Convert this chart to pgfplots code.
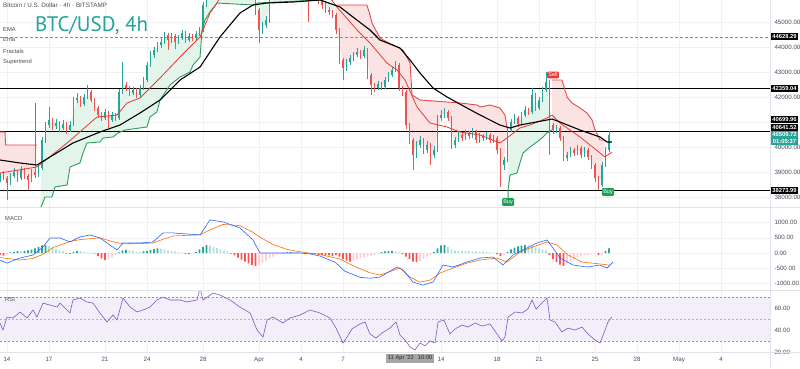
\documentclass[border=0pt]{standalone}
\usepackage{fontspec}
\setmainfont{Liberation Sans}
\newfontfamily\titlefont{PT Sans}
\usepackage{pgfplots}
\pgfplotsset{compat=1.18}
\usepackage{pgfplotstable}
\definecolor{upc}{HTML}{26A69A}
\definecolor{dnc}{HTML}{EF5350}
\definecolor{stg}{HTML}{2E9D5B}
\definecolor{str}{HTML}{E5484D}
\definecolor{fillg}{HTML}{E3F4EA}
\definecolor{fillr}{HTML}{FCE3E3}
\definecolor{emar}{HTML}{E53935}
\definecolor{macdb}{HTML}{2962FF}
\definecolor{macdo}{HTML}{FF6D00}
\definecolor{hupa}{HTML}{26A69A}
\definecolor{hupb}{HTML}{B2DFDB}
\definecolor{hdna}{HTML}{FF5252}
\definecolor{hdnb}{HTML}{FFCDD2}
\definecolor{rsil}{HTML}{7E57C2}
\definecolor{rsib}{HTML}{F3EFFA}
\definecolor{gridc}{HTML}{EFF1F6}
\definecolor{txtc}{HTML}{4A4D57}
\definecolor{sepc}{HTML}{E0E3EB}
\definecolor{titlec}{HTML}{22A39B}
\definecolor{buyc}{HTML}{1E9E55}
\definecolor{sellc}{HTML}{E53935}

\pgfplotstableread{
x o h l c
-0.5 38700 39000 38620 38900
-0.25 38900 39060 38700 38780
0 38780 38860 37900 38580
0.25 38580 38980 38500 38860
0.5 38860 39180 38800 39020
0.75 39020 39100 38640 38780
1.0 38780 39260 38700 39100
1.25 39100 39180 38760 38860
1.5 38860 38940 38300 38700
1.75 38700 39140 38640 39020
2.0 39020 41780 38800 38900
2.25 38900 39300 38820 39180
2.5 39180 40420 39100 40300
2.75 40300 41020 40200 40900
3.0 40900 41620 40800 41100
3.25 41100 41200 40700 40860
3.5 40860 41140 40760 40980
3.75 40980 41060 40640 40780
4.0 40780 41100 40700 40940
4.25 40940 41020 40560 40700
4.5 40700 41060 40620 40900
4.75 40900 42040 40860 41900
5.0 41900 42200 41780 41980
5.25 41980 42060 41620 41740
5.5 41740 42140 41660 42020
5.75 42020 42500 41940 42220
6.0 42220 42300 41820 41900
6.25 41900 41980 41460 41580
6.5 41580 41660 41200 41300
6.75 41300 41420 41060 41180
7.0 41180 41540 41100 41420
7.25 41420 41480 40780 41100
7.5 41100 41420 41020 41300
7.75 41300 41380 41060 41180
8.0 41180 42340 41100 42220
8.25 42220 43420 42140 42500
8.5 42500 42620 42260 42380
8.75 42380 42460 42060 42180
9.0 42180 42440 42100 42300
9.25 42300 42380 41980 42100
9.5 42100 42500 42020 42380
9.75 42380 42820 42300 42700
10.0 42700 43420 42640 43300
10.25 43300 43860 43220 43700
10.5 43700 44040 43600 43900
10.75 43900 44220 43820 44100
11.0 44100 44380 43980 44220
11.25 44220 44640 44140 44500
11.5 44500 44580 43900 44300
11.75 44300 44580 44200 44460
12.0 44460 44540 43940 44220
12.25 44220 44500 44140 44380
12.5 44380 44700 44300 44580
12.75 44580 44660 44180 44300
13.0 44300 44580 44240 44460
13.25 44460 44540 44260 44380
13.5 44380 44660 44300 44540
13.75 44540 44820 44460 44700
14.0 44700 45840 44640 45700
14.25 45700 46460 45620 46300
14.5 46300 46900 46200 46700
14.75 46700 47700 46600 47500
15.0 47500 48100 47400 47900
15.25 47900 48000 47500 47700
15.5 47700 48200 47600 48100
15.75 48100 48200 47700 47900
16.0 47900 48000 47300 47500
16.25 47500 47600 47100 47300
16.5 47300 47400 46900 47100
16.75 47100 47600 47000 47420
17.0 47420 47500 46700 46900
17.25 46900 47000 46300 46500
17.5 46500 46600 45900 46100
17.75 46100 46200 45300 45500
18.0 45500 45600 44180 44700
18.25 44700 45040 44560 44900
18.5 44900 45260 44800 45100
18.75 45100 46240 45000 46100
19.0 46100 46660 46000 46500
19.25 46500 46860 46400 46700
19.5 46700 47060 46600 46900
19.75 46900 47000 46560 46700
20.0 46700 47200 46600 47020
20.25 47020 47120 46640 46780
20.5 46780 47260 46700 47100
20.75 47100 47200 46760 46900
21.0 46900 47000 46560 46700
21.25 46700 46800 46360 46500
21.5 46500 46600 45020 46300
21.75 46300 46400 45940 46100
22.0 46100 46360 46000 46220
22.25 46220 46300 45760 45900
22.5 45900 46000 45560 45700
22.75 45700 45800 45380 45500
23.0 45500 45620 45300 45420
23.25 45420 45500 45180 45300
23.5 45300 45380 44560 44700
23.75 44700 44780 43360 43500
24.0 43500 43600 42700 43180
24.25 43180 43560 43060 43420
24.5 43420 43720 43300 43580
24.75 43580 43840 43480 43700
25.0 43700 43980 43620 43820
25.25 43820 43900 43540 43660
25.5 43660 44060 43580 43900
25.75 43900 43980 42760 42900
26.0 42900 43000 42100 42500
26.25 42500 42600 42240 42380
26.5 42380 42680 42300 42540
26.75 42540 42640 42300 42420
27.0 42420 42820 42340 42700
27.25 42700 43040 42620 42900
27.5 42900 43240 42820 43100
27.75 43100 43460 43020 43300
28.0 43300 43380 42260 42380
28.25 42380 42460 42080 42220
28.5 42220 42300 40760 40900
28.75 40900 41000 40140 40300
29.0 40300 40380 39100 39700
29.25 39700 40260 39580 40100
29.5 40100 40460 40000 40300
29.75 40300 40380 39760 39900
30.0 39900 40260 39800 40100
30.25 40100 40200 39300 39700
30.5 39700 40060 39600 39900
30.75 39900 41320 39820 41180
31.0 41180 41500 41080 41300
31.25 41300 41580 41200 41420
31.5 41420 41500 41060 41180
31.75 41180 41260 39960 40100
32.0 40100 40440 40000 40300
32.25 40300 40660 40220 40500
32.5 40500 40600 40260 40380
32.75 40380 40720 40300 40580
33.0 40580 40660 40340 40460
33.25 40460 40780 40380 40620
33.5 40620 40700 40180 40300
33.75 40300 40600 40200 40460
34.0 40460 40560 40260 40380
34.25 40380 40640 40300 40500
34.5 40500 40580 40180 40300
34.75 40300 40520 40200 40380
35.0 40380 40460 39760 39900
35.25 39900 39980 38420 39300
35.5 39300 39640 39100 39500
35.75 39500 40840 39420 40700
36.0 40700 41160 40620 41020
36.25 41020 41340 40940 41180
36.5 41180 41260 40820 40940
36.75 40940 41440 40860 41300
37.0 41300 41660 41220 41500
37.25 41500 41600 41300 41420
37.5 41420 42380 41340 42100
37.75 42100 42180 41460 41580
38.0 41580 42040 41500 41900
38.25 41900 42440 41820 42300
38.5 42300 43020 42220 42620
38.75 42620 42700 39700 40900
39.0 40900 41000 40560 40700
39.25 40700 40920 40600 40780
39.5 40780 40860 40260 40380
39.75 40380 40460 39460 39580
40.0 39580 39840 39480 39700
40.25 39700 40040 39620 39900
40.5 39900 40000 39660 39780
40.75 39780 40120 39700 39980
41.0 39980 40060 39580 39700
41.25 39700 40040 39620 39900
41.5 39900 39980 39500 39620
41.75 39620 39700 39160 39300
42.0 39300 39380 38640 38780
42.25 38780 38860 38300 38500
42.5 38500 39440 38420 39300
42.75 39300 40040 39220 39900
43.0 39900 40680 39820 40510
}\candles

\pgfplotstableread{
x h k
-0.5 -60 3
-0.25 -90 3
0 -50 4
0.25 20 1
0.5 40 1
0.75 60 1
1 50 2
1.25 70 1
1.5 90 1
1.75 110 1
2 150 1
2.25 200 1
2.5 250 1
2.75 260 1
3 230 2
3.25 180 2
3.5 140 2
3.75 100 2
4 60 2
4.25 -20 3
4.5 -30 3
4.75 40 1
5 70 1
5.25 60 2
5.5 40 2
5.75 20 2
6 10 2
6.25 -20 3
6.5 -100 3
6.75 -180 3
7 -230 3
7.25 -200 4
7.5 -150 4
7.75 -60 4
8 20 1
8.25 90 1
8.5 110 1
8.75 90 2
9 70 2
9.25 40 2
9.5 30 2
9.75 50 1
10 70 1
10.25 100 1
10.5 130 1
10.75 150 1
11 140 2
11.25 120 2
11.5 90 2
11.75 70 2
12 50 2
12.25 30 2
12.5 10 2
12.75 -30 3
13 -40 3
13.25 -20 4
13.5 30 1
13.75 120 1
14 200 1
14.25 260 1
14.5 240 2
14.75 200 2
15 160 2
15.25 120 2
15.5 80 2
15.75 50 2
16 -20 3
16.25 -80 3
16.5 -150 3
16.75 -220 3
17 -280 3
17.25 -340 3
17.5 -400 3
17.75 -430 3
18 -400 4
18.25 -330 4
18.5 -250 4
18.75 -180 4
19 -120 4
19.25 -60 4
19.5 -20 4
19.75 5 1
20 20 1
20.25 30 1
20.5 30 2
20.75 20 2
21 10 2
21.25 -10 3
21.5 -20 3
21.75 -30 3
22 -40 3
22.25 -50 3
22.5 -60 3
22.75 -70 3
23 -80 3
23.25 -100 3
23.5 -60 3
23.75 -120 3
24 -200 3
24.25 -250 3
24.5 -280 3
24.75 -260 4
25 -220 4
25.25 -180 4
25.5 -140 4
25.75 -120 4
26 -90 4
26.25 -60 4
26.5 -20 4
26.75 30 1
27 50 1
27.25 60 1
27.5 70 1
27.75 50 2
28 20 2
28.25 -40 3
28.5 -120 3
28.75 -200 3
29 -280 3
29.25 -300 3
29.5 -260 4
29.75 -200 4
30 -120 4
30.25 -60 4
30.5 40 1
30.75 150 1
31 250 1
31.25 270 1
31.5 200 2
31.75 120 2
32 90 2
32.25 80 2
32.5 70 2
32.75 60 2
33 60 2
33.25 50 2
33.5 50 2
33.75 40 2
34 40 2
34.25 30 2
34.5 20 2
34.75 10 2
35 -40 3
35.25 -100 3
35.5 -60 4
35.75 40 1
36 120 1
36.25 180 1
36.5 220 1
36.75 240 1
37 260 1
37.25 250 2
37.5 240 2
37.75 180 2
38 150 2
38.25 120 2
38.5 90 2
38.75 -60 3
39 -200 3
39.25 -300 3
39.5 -380 3
39.75 -420 3
40 -350 4
40.25 -280 4
40.5 -200 4
40.75 -150 4
41 -110 4
41.25 -80 4
41.5 -60 4
41.75 -40 4
42 -20 4
42.25 -70 3
42.5 -60 4
42.75 60 1
43 150 1
}\hist

\pgfplotsset{
  pane/.style={scale only axis, width=770pt, xmin=-0.5, xmax=54.5,
    axis line style={draw=none}, major tick length=0pt, tick style={draw=none},
    xtick={0,3,7,10,14,18,21,24,31,35,38,42,45,48,51},
    xmajorgrids, major grid style={color=gridc, line width=0.6pt},
    yticklabel pos=right, scaled y ticks=false,
    /pgf/number format/assume math mode=true,
    yticklabel={\pgfmathprintnumber[fixed,fixed zerofill,precision=2,1000 sep={}]{\tick}},
    yticklabel style={font=\fontsize{6.2}{7}\selectfont, text=txtc, anchor=west, xshift=1pt},
    xticklabel style={font=\fontsize{6.2}{7}\selectfont, text=txtc},
  },
  upwick/.style={draw=none, mark=none, forget plot,
    restrict expr to domain={\thisrow{c}-\thisrow{o}}{0:100000},
    error bars/.cd, y dir=both, y explicit, error mark=none,
    error bar style={draw=upc, line width=0.55pt}},
  dnwick/.style={draw=none, mark=none, forget plot,
    restrict expr to domain={\thisrow{c}-\thisrow{o}}{-100000:-1},
    error bars/.cd, y dir=both, y explicit, error mark=none,
    error bar style={draw=dnc, line width=0.55pt}},
  upbody/.style={draw=none, mark=none, forget plot,
    restrict expr to domain={\thisrow{c}-\thisrow{o}}{0:100000},
    error bars/.cd, y dir=both, y explicit, error mark=none,
    error bar style={draw=upc, line width=1.8pt}},
  dnbody/.style={draw=none, mark=none, forget plot,
    restrict expr to domain={\thisrow{c}-\thisrow{o}}{-100000:-1},
    error bars/.cd, y dir=both, y explicit, error mark=none,
    error bar style={draw=dnc, line width=1.8pt}},
  hbar/.style={ybar, bar width=1.8pt, bar shift=0pt, draw=none, forget plot},
  stfill/.style={draw=none, forget plot},
}

\begin{document}
\begin{tikzpicture}
\useasboundingbox (0,0) rectangle (800pt,-368pt);

% ---------------- main price pane ----------------
\begin{axis}[pane, at={(0pt,0pt)}, anchor=north west, height=207pt,
  ymin=37620, ymax=45900, ytick={38000,39000,40000,42000,43000,44000,45000}, ymajorgrids,
  extra y ticks={41000}, extra y tick labels={}, extra y tick style={grid=major},
  xticklabels={}]

% supertrend fills (between supertrend and candle-body midline)
\addplot[stfill, fill=fillr] coordinates {(-0.5,40620) (-0.14,40620) (-0.1,40100) (2.14,40100) (2.0,38960) (1.75,38860) (1.5,38780) (1.25,38980) (1.0,38940) (0.75,38900) (0.5,38940) (0.25,38720) (0,38680) (-0.25,38840) (-0.5,38800)} -- cycle;
\addplot[stfill, fill=fillg] coordinates {(2.36,37500) (2.71,38020) (3.21,38020) (3.43,38420) (4.29,38500) (4.5,39220) (5.21,39380) (5.43,39780) (5.71,40180) (6.64,40220) (6.86,40380) (7.57,40420) (7.93,40580) (8.43,40700) (10,40820) (10.21,41220) (10.71,41420) (10.93,41900) (11.64,42500) (12.36,42820) (13.07,43020) (13.29,43300) (13.79,43620) (13.93,44700) (14.14,45100) (14.5,45420) (15,45780) (17.57,45700) (17.86,45780) (22.36,45900) (23.43,45700) (23.25,45360) (23.0,45460) (22.5,45800) (22,46160) (21,46800) (20,46860) (19,46300) (18.75,45600) (18.5,45000) (18.25,44800) (18.0,45100) (17.75,45800) (17,47160) (16,47700) (15,47700) (14.5,46500) (14.25,46000) (14.0,45200) (13.75,44620) (13.5,44460) (13.25,44420) (13.0,44380) (12.75,44440) (12.5,44480) (12.25,44300) (12.0,44340) (11.75,44380) (11.5,44400) (11.25,44360) (11.0,44160) (10.75,44000) (10.5,43800) (10.25,43500) (10.0,43000) (9.75,42540) (9.5,42240) (9.25,42200) (9.0,42240) (8.75,42280) (8.5,42440) (8.25,42360) (8.0,41700) (7.75,41240) (7.5,41200) (7.25,41260) (7.0,41300) (6.75,41240) (6.5,41440) (6.25,41740) (6.0,42060) (5.75,42120) (5.5,41880) (5.25,41860) (5.0,41940) (4.75,41400) (4.5,40800) (4.25,40820) (4.0,40860) (3.75,40880) (3.5,40920) (3.25,40980) (3.0,41000) (2.75,40600) (2.5,39740)} -- cycle;
\addplot[stfill, fill=fillr] coordinates {(23.43,45700) (24.14,45700) (25.71,45700) (25.93,45300) (26.07,44980) (26.64,44380) (27.14,44220) (27.86,44020) (28.29,43900) (28.79,43380) (28.93,42100) (29.5,41900) (32.36,41780) (33.57,41700) (33.79,41620) (34.5,41700) (35.21,41580) (35.57,41300) (35.71,40820) (35.5,39400) (35.25,39600) (35.0,40140) (34.75,40340) (34.5,40400) (34.25,40440) (34.0,40420) (33.75,40380) (33.5,40460) (33.25,40540) (33.0,40520) (32.75,40480) (32.5,40440) (32.25,40400) (32.0,40200) (31.75,40640) (31.5,41300) (31.25,41360) (31.0,41240) (30.75,40540) (30.5,39800) (30.25,39900) (30.0,40000) (29.75,40100) (29.5,40200) (29.25,39900) (29.0,40000) (28.75,40600) (28.5,41560) (28.25,42300) (28.0,42840) (27.75,43200) (27.5,43000) (27.25,42800) (27.0,42560) (26.75,42480) (26.5,42460) (26.25,42440) (26.0,42700) (25.75,43400) (25.5,43780) (25.25,43740) (25.0,43760) (24.75,43640) (24.5,43500) (24.25,43300) (24.0,43340) (23.75,44100) (23.5,45000)} -- cycle;
\addplot[stfill, fill=fillg] coordinates {(35.79,38300) (35.93,38900) (36.43,38980) (36.64,39380) (36.86,39780) (37.36,40020) (37.86,40220) (38.29,40420) (38.57,40580) (38.93,40700) (38.75,41760) (38.5,42460) (38.25,42100) (38.0,41740) (37.75,41840) (37.5,41760) (37.25,41460) (37.0,41400) (36.75,41120) (36.5,41060) (36.25,41100) (36.0,40860) (35.79,40100)} -- cycle;
\addplot[stfill, fill=fillr] coordinates {(38.93,42700) (39.64,42700) (40,42020) (40.36,41780) (40.93,41580) (41.43,41380) (41.79,41100) (42,40700) (42.36,40300) (42.71,40300) (42.5,38900) (42.25,38640) (42.0,39040) (41.75,39460) (41.5,39760) (41.25,39800) (41.0,39840) (40.75,39880) (40.5,39840) (40.25,39800) (40.0,39640) (39.75,39980) (39.5,40580) (39.25,40740) (39.0,40800) (38.93,40900)} -- cycle;

% key levels
\addplot[color=black!45, line width=0.6pt, dash pattern=on 3pt off 2pt] coordinates {(-0.5,44420) (54.5,44420)};
\addplot[black, line width=1.2pt] coordinates {(-0.5,42359.04) (54.5,42359.04)};
\addplot[black, line width=1.2pt] coordinates {(-0.5,40641.52) (54.5,40641.52)};
\addplot[black, line width=1.2pt] coordinates {(-0.5,38273.99) (54.5,38273.99)};

% candles
\addplot[upwick] table[x=x, y expr={(\thisrow{h}+\thisrow{l})/2}, y error expr={(\thisrow{h}-\thisrow{l})/2}]{\candles};
\addplot[dnwick] table[x=x, y expr={(\thisrow{h}+\thisrow{l})/2}, y error expr={(\thisrow{h}-\thisrow{l})/2}]{\candles};
\addplot[upbody] table[x=x, y expr={(\thisrow{o}+\thisrow{c})/2}, y error expr={abs(\thisrow{c}-\thisrow{o})/2}]{\candles};
\addplot[dnbody] table[x=x, y expr={(\thisrow{o}+\thisrow{c})/2}, y error expr={abs(\thisrow{c}-\thisrow{o})/2}]{\candles};

% supertrend lines
\addplot[str, line width=0.9pt] coordinates {(-0.5,40620) (-0.14,40620) (-0.1,40100) (2.14,40100)};
\addplot[stg, line width=0.9pt] coordinates {(2.36,37500) (2.71,38020) (3.21,38020) (3.43,38420) (4.29,38500) (4.5,39220) (5.21,39380) (5.43,39780) (5.71,40180) (6.64,40220) (6.86,40380) (7.57,40420) (7.93,40580) (8.43,40700) (10,40820) (10.21,41220) (10.71,41420) (10.93,41900) (11.64,42500) (12.36,42820) (13.07,43020) (13.29,43300) (13.79,43620) (13.93,44700) (14.14,45100) (14.5,45420) (15,45780) (17.57,45700) (17.86,45780) (22.36,45900) (23.43,45700)};
\addplot[str, line width=0.9pt] coordinates {(23.43,45700) (24.14,45700) (25.71,45700) (25.93,45300) (26.07,44980) (26.64,44380) (27.14,44220) (27.86,44020) (28.29,43900) (28.79,43380) (28.93,42100) (29.5,41900) (32.36,41780) (33.57,41700) (33.79,41620) (34.5,41700) (35.21,41580) (35.57,41300) (35.71,40820)};
\addplot[stg, line width=0.9pt] coordinates {(35.79,37900) (35.79,38300) (35.93,38900) (36.43,38980) (36.64,39380) (36.86,39780) (37.36,40020) (37.86,40220) (38.29,40420) (38.57,40580) (38.93,40700)};
\addplot[str, line width=0.9pt] coordinates {(38.93,42700) (39.64,42700) (40,42020) (40.36,41780) (40.93,41580) (41.43,41380) (41.79,41100) (42,40700) (42.36,40300) (42.71,40300)};
\addplot[stg, line width=0.9pt] coordinates {(42.86,38380) (43.21,38380)};

% EMAs
\addplot[emar, line width=0.8pt] coordinates {(-0.5,38980) (2.14,39220) (4.29,40180) (6.43,41220) (7.86,41300) (8.57,41780) (9.5,41980) (10.93,42780) (12.36,43620) (13.79,44420) (14.5,45380) (15,45780) (15.93,46700) (17.36,47300) (18.79,47100) (20.93,46900) (22.36,46500) (23.57,45620) (25,44700) (25.93,44180) (27.14,43380) (27.86,43100) (28.43,42700) (29.29,41620) (30.21,40980) (31.43,40820) (32.36,40620) (33.79,40500) (35.21,40180) (35.71,40380) (36.64,40780) (37.36,40900) (38.57,41180) (38.93,41300) (39.5,40980) (40.93,40420) (42.36,39780) (42.71,39620) (43.21,39820)};
\addplot[black, line width=1.1pt] coordinates {(-0.5,39500) (0.93,39380) (2.14,39300) (3.07,39620) (4.71,40180) (6.64,40620) (8.07,40900) (9.5,41380) (10.93,41900) (12.36,42700) (13.79,43220) (15.21,44420) (16.64,45380) (17.57,45700) (18.57,45780) (20.43,45820) (22.36,45900) (23.79,45620) (24.71,45220) (25.93,44700) (26.64,44300) (28.07,43980) (28.79,43500) (29.5,42980) (30.43,42380) (31.43,42020) (32.86,41580) (33.79,41300) (35.21,40900) (35.93,40780) (36.64,40900) (38.57,41100) (38.93,41140) (39.5,41020) (40.93,40700) (42.36,40420) (42.86,40220) (43.21,40220)};

\coordinate (b1) at (axis cs:54.5,44432);
\coordinate (b2) at (axis cs:54.5,42352);
\coordinate (b3) at (axis cs:54.5,41120);
\coordinate (b4) at (axis cs:54.5,40800);
\coordinate (b5) at (axis cs:54.5,40380);
\coordinate (b6) at (axis cs:54.5,38272);
\coordinate (buy1) at (axis cs:35.79,37820);
\coordinate (sell1) at (axis cs:39.0,42900);
\coordinate (buy2) at (axis cs:42.93,38220);
\end{axis}

% ---------------- MACD pane ----------------
\begin{axis}[pane, at={(0pt,-207pt)}, anchor=north west, height=83pt,
  ymin=-1217, ymax=1513, ytick={-1000,-500,0,500,1000}, ymajorgrids,
  xticklabels={}]
\addplot[hbar, fill=hupa, restrict expr to domain={\thisrow{k}}{1:1}] table[x=x, y=h]{\hist};
\addplot[hbar, fill=hupb, restrict expr to domain={\thisrow{k}}{2:2}] table[x=x, y=h]{\hist};
\addplot[hbar, fill=hdna, restrict expr to domain={\thisrow{k}}{3:3}] table[x=x, y=h]{\hist};
\addplot[hbar, fill=hdnb, restrict expr to domain={\thisrow{k}}{4:4}] table[x=x, y=h]{\hist};
\addplot[macdo, line width=0.6pt] coordinates {(-0.5,-150) (0.93,-230) (1.86,-180) (2.57,-40) (3.29,180) (4.5,380) (5.21,440) (6.64,500) (7.5,380) (8.29,300) (9.5,310) (10.43,330) (11.14,450) (11.86,560) (13.79,600) (14.5,760) (15.43,940) (16.64,900) (17.57,680) (18.07,520) (19,280) (20,120) (20.93,40) (22.36,-50) (23.79,-200) (24.86,-450) (25.93,-650) (26.64,-726) (28.07,-495) (28.79,-792) (29.5,-957) (30.21,-891) (30.93,-660) (31.86,-495) (32.86,-330) (33.79,-231) (35,-165) (35.71,-297) (36.64,33) (37.57,198) (38.57,363) (39.29,264) (40.07,-66) (41.07,-297) (42.36,-360) (43.07,-400)};
\addplot[macdb, line width=0.6pt] coordinates {(-0.5,-231) (0,-330) (0.93,-165) (1.86,-66) (2.57,198) (3.07,495) (3.79,495) (4.5,363) (5.21,528) (5.93,594) (6.64,495) (7.86,99) (8.29,330) (9.5,330) (10.43,363) (11.14,660) (11.86,660) (13.79,594) (14.5,1089) (15.43,1023) (16.64,825) (17.57,429) (18.07,0) (19,0) (20,0) (20.93,0) (21.64,-30) (22.36,-100) (23.43,-300) (24.14,-600) (25.21,-800) (25.93,-830) (26.64,-792) (27.86,-462) (28.29,-561) (29,-957) (29.71,-1056) (30.43,-957) (31.14,-396) (31.86,-462) (32.86,-297) (33.79,-165) (34.71,-132) (35.43,-396) (36.14,-66) (37.14,165) (37.86,330) (38.57,429) (39,165) (39.5,-165) (40.43,-396) (41.43,-462) (42.36,-396) (42.86,-495) (43.29,-297)};
\end{axis}

% ---------------- RSI pane ----------------
\begin{axis}[pane, at={(0pt,-290pt)}, anchor=north west, height=62pt,
  ymin=20, ymax=76.4, ytick={20,40,60},
  xticklabels={14,17,21,24,28,Apr,4,7,14,18,21,25,28,May,4},
  xticklabel style={yshift=-1.5pt}]
\addplot[draw=none, fill=rsib, forget plot] coordinates {(-0.5,30) (54.5,30) (54.5,70) (-0.5,70)} -- cycle;
\addplot[color=black!40, line width=0.5pt, dash pattern=on 2pt off 2pt] coordinates {(-0.5,70) (54.5,70)};
\addplot[color=black!30, line width=0.5pt, dash pattern=on 2pt off 2pt] coordinates {(-0.5,50) (54.5,50)};
\addplot[color=black!40, line width=0.5pt, dash pattern=on 2pt off 2pt] coordinates {(-0.5,30) (54.5,30)};
\addplot[rsil, line width=0.6pt] coordinates {(-0.5,46.4) (-0.29,40) (0,51.8) (0.43,50.9) (0.93,56.4) (1.43,50.9) (1.86,58.2) (2.14,51.8) (2.57,64.5) (3.07,62.7) (3.57,60.9) (3.79,64.5) (4.29,58.2) (4.5,55.5) (4.71,67.3) (5.21,69.1) (5.71,65.5) (6.14,64.5) (6.64,55.5) (7.14,47.3) (7.57,53.6) (7.86,49.1) (8.29,69.1) (8.79,60.9) (9.29,56.4) (9.71,58.2) (10.21,60.9) (10.71,67.3) (11.14,70) (11.64,67.3) (12.36,67.3) (12.86,65.5) (13.57,67.3) (13.79,78) (14.0,67.3) (14.71,73.6) (15.21,71.8) (15.93,67.3) (16.64,60.9) (17.36,55.5) (17.86,40) (18.29,33.6) (18.57,49.1) (19,51.8) (19.71,46.4) (20.21,50.9) (20.93,53.6) (21.64,58.2) (22.36,55.5) (23.07,50.9) (23.5,41.8) (24,28.2) (24.36,35) (24.64,41) (25.21,45.5) (25.57,47.3) (25.93,36.4) (26.36,32.7) (26.79,37.3) (27.36,41.8) (27.79,47.3) (28.07,35.5) (28.43,30.9) (28.79,24.5) (29.14,21.8) (29.5,28.2) (29.86,25.5) (30.21,30) (30.57,28.2) (30.79,47.3) (31.21,49.1) (31.64,36.4) (32,40.9) (32.5,44.5) (32.93,42.7) (33.43,46.4) (33.93,43.6) (34.5,45.5) (35,36.4) (35.36,30) (35.57,33.6) (35.79,51.8) (36.29,56.4) (36.79,55.5) (37.21,59.1) (37.5,67.3) (37.79,59.1) (38.21,64.5) (38.57,69.1) (38.79,49.1) (39.14,47.3) (39.64,38.2) (40.07,41.8) (40.57,40) (41.07,42.7) (41.5,36.4) (42,30.9) (42.36,28.2) (42.64,37.3) (42.93,47.3) (43.21,51.8)};
\coordinate (cross) at (axis cs:28.8,20);
\end{axis}

% pane separators
\draw[sepc, line width=0.6pt] (0,-207pt) -- (800pt,-207pt);
\draw[sepc, line width=0.6pt] (0,-290pt) -- (800pt,-290pt);
\draw[sepc, line width=0.6pt] (0,-352pt) -- (800pt,-352pt);
\draw[sepc, line width=0.6pt] (770pt,0) -- (770pt,-368pt);

% price labels on the scale
\tikzset{pl/.style={anchor=west, inner sep=0pt, minimum width=27pt, minimum height=7.2pt,
  font=\fontsize{5.8}{6}\selectfont\bfseries, text=white, xshift=0.8pt}}
\node[pl, fill=black] at (b1) {44628.29};
\node[pl, fill=black] at (b2) {42359.04};
\node[pl, fill=black] at (b3) {40699.96};
\node[pl, fill=black] at (b4) {40641.52};
\node[pl, fill=upc, minimum height=14pt, align=center, font=\fontsize{5.8}{6.6}\selectfont\bfseries] at (b5) {40509.72\\01:05:37};
\node[pl, fill=black] at (b6) {38273.99};

% buy / sell signals
\node[fill=buyc, text=white, rounded corners=1pt, inner sep=1.3pt, font=\fontsize{5.5}{6}\selectfont] at (buy1) {Buy};
\node[fill=sellc, text=white, rounded corners=1pt, inner sep=1.3pt, font=\fontsize{5.5}{6}\selectfont] at (sell1) {Sell};
\node[fill=buyc, text=white, rounded corners=1pt, inner sep=1.3pt, font=\fontsize{5.5}{6}\selectfont] at (buy2) {Buy};

% crosshair date
\node[fill=black!35, text=black!85, inner sep=2pt, font=\fontsize{5.8}{6}\selectfont, anchor=north] at ([yshift=-1.5pt]cross) {11 Apr '22\hspace{4pt}10:00};

% header and legend
\node[anchor=north west, inner sep=0pt, text=txtc, font=\fontsize{6.3}{7}\selectfont] at (3pt,-2.5pt) {Bitcoin / U.S. Dollar · 4h · BITSTAMP};
\node[anchor=base west, inner sep=0pt, text=titlec] at (35pt,-31pt) {\titlefont\fontsize{21}{21}\selectfont BTC/USD, 4h};
\node[anchor=west, inner sep=0pt, text=txtc, font=\fontsize{5.8}{6}\selectfont] at (3pt,-29pt) {EMA};
\node[anchor=west, inner sep=0pt, text=txtc, font=\fontsize{5.8}{6}\selectfont] at (3pt,-40pt) {Ema};
\node[anchor=west, inner sep=0pt, text=txtc, font=\fontsize{5.8}{6}\selectfont] at (3pt,-51pt) {Fractals};
\node[anchor=west, inner sep=0pt, text=txtc, font=\fontsize{5.8}{6}\selectfont] at (3pt,-62pt) {Supertrend};
\node[anchor=west, inner sep=0pt, text=txtc, font=\fontsize{5.8}{6}\selectfont] at (5pt,-218pt) {MACD};
\node[anchor=west, inner sep=0pt, text=txtc, font=\fontsize{5.8}{6}\selectfont] at (5pt,-299pt) {RSI};
\end{tikzpicture}
\end{document}
